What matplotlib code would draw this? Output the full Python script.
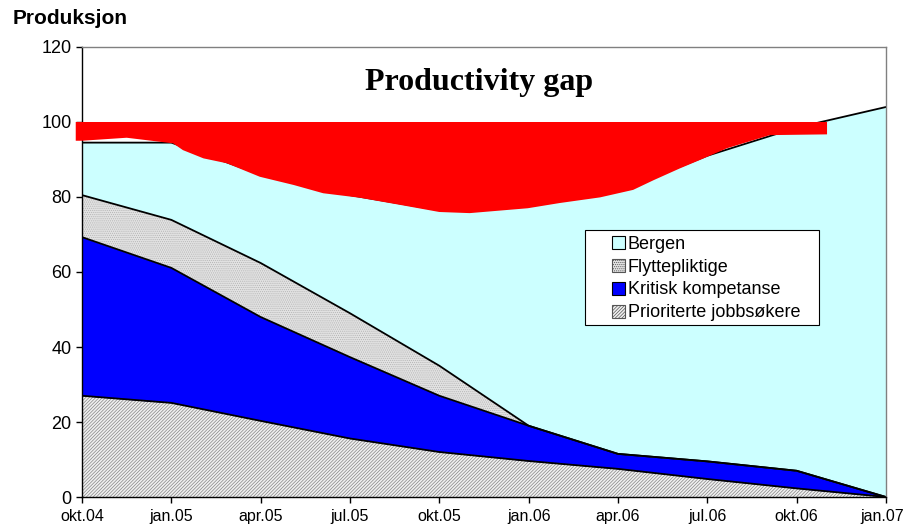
import numpy as np
import matplotlib
matplotlib.use("Agg")
import matplotlib.pyplot as plt
import matplotlib.transforms as mtransforms
from matplotlib.patches import Patch, Rectangle

# Quarterly labels
quarters = ["okt.04", "jan.05", "apr.05", "jul.05", "okt.05",
            "jan.06", "apr.06", "jul.06", "okt.06", "jan.07"]

# Stacked series (individual contributions, bottom to top)
prioriterte = [27.0, 25.1, 20.3, 15.6, 12.0, 9.6, 7.5, 4.8, 2.3, 0.0]
kritisk = [42.3, 36.0, 27.7, 21.7, 15.0, 9.4, 4.0, 4.7, 4.7, 0.0]
flyttepliktige = [11.2, 12.8, 14.4, 11.7, 8.0, 0.0, 0.0, 0.0, 0.0, 0.0]
bergen = [14.0, 20.6, 23.6, 31.5, 41.5, 58.5, 70.0, 81.5, 91.5, 104.0]

# Productivity gap band: lower edge (quarter position, value) up to the target level
gap_x = [-0.07, 0.0, 0.5, 1.02, 1.13, 1.36, 1.62, 1.99, 2.37, 2.70, 3.11, 3.56,
         4.00, 4.34, 4.99, 5.35, 5.80, 6.17, 6.40, 6.69, 6.92, 7.22, 7.70, 8.34]
gap_low = [95.0, 95.0, 95.8, 94.3, 92.5, 90.3, 89.0, 85.4, 83.2, 81.0, 79.8, 77.9,
           76.0, 75.7, 77.0, 78.4, 79.9, 81.9, 84.5, 87.6, 89.9, 93.0, 96.5, 96.7]
gap_target = 100.0

plt.rcParams["font.family"] = ["Liberation Sans", "DejaVu Sans"]
plt.rcParams["hatch.linewidth"] = 0.5

fig = plt.figure(figsize=(9.05, 5.28), dpi=100)
ax = fig.add_axes([0.0906, 0.0587, 0.8884, 0.8523])

x = np.arange(len(quarters))
series = [
    ("Prioriterte jobbsøkere", prioriterte, dict(facecolor="#F0F0F0", hatch="//////////", edgecolor="#858585")),
    ("Kritisk kompetanse", kritisk, dict(facecolor="#0000FF", hatch=None, edgecolor="#0000FF")),
    ("Flyttepliktige", flyttepliktige, dict(facecolor="#E2E2E2", hatch="........", edgecolor="#B4B4B4")),
    ("Bergen", bergen, dict(facecolor="#CCFFFF", hatch=None, edgecolor="#CCFFFF")),
]

base = np.zeros(len(x))
handles = []
for name, vals, style in series:
    top = base + np.array(vals)
    ax.fill_between(x, base, top, facecolor=style["facecolor"], hatch=style["hatch"],
                    edgecolor=style["edgecolor"], linewidth=0, zorder=1)
    ax.plot(x, top, color="black", linewidth=1.3, zorder=2, solid_joinstyle="round")
    handles.append(Patch(facecolor=style["facecolor"], hatch=style["hatch"],
                         edgecolor="black" if style["hatch"] is None else "#555555",
                         linewidth=0.8, label=name))
    base = top

# Productivity gap overlay
ax.fill_between(gap_x, gap_low, gap_target, facecolor="#FF0000", edgecolor="none",
                linewidth=0, zorder=3, clip_on=False)

ax.text(4.45, 110.4, "Productivity gap", ha="center", va="center",
        fontsize=23, fontweight="bold", family=["Liberation Serif", "DejaVu Serif"], zorder=4)

ax.set_xlim(0, 9)
ax.set_ylim(0, 120)
ax.set_xticks(x)
ax.set_xticklabels(quarters, fontsize=11.5)
ax.set_yticks(np.arange(0, 121, 20))
ax.tick_params(axis="y", labelsize=13, direction="out", length=4.5, width=1, pad=3)
ax.tick_params(axis="x", direction="out", length=4.5, width=1, pad=4)
# keep the last quarter label inside the figure
last = ax.get_xticklabels()[-1]
last.set_transform(last.get_transform() + mtransforms.ScaledTranslation(-4 / 100, 0, fig.dpi_scale_trans))
for side in ("top", "right"):
    ax.spines[side].set_color("#808080")
    ax.spines[side].set_linewidth(1.0)
for side in ("left", "bottom"):
    ax.spines[side].set_color("black")
    ax.spines[side].set_linewidth(1.0)

# Legend box
ax.add_patch(Rectangle((0.6256, 0.3822), 0.2911, 0.2111, transform=ax.transAxes,
                       facecolor="white", edgecolor="black", linewidth=0.8, zorder=5))
leg = ax.legend(handles=handles[::-1], loc="upper left", bbox_to_anchor=(0.6592, 0.581),
                fontsize=13, frameon=False,
                handlelength=0.72, handleheight=0.72, handletextpad=0.15,
                labelspacing=0.33, borderpad=0, borderaxespad=0)
leg.set_zorder(6)

fig.text(0.014, 0.965, "Produksjon", fontsize=15, fontweight="bold", ha="left", va="center")

fig.savefig("out.png", dpi=100)
